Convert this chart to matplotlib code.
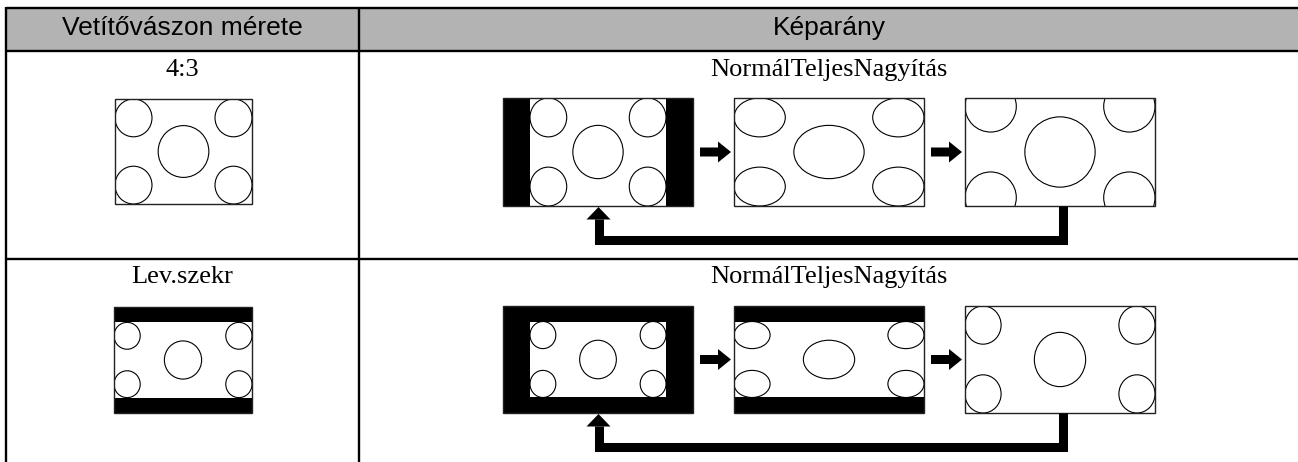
import matplotlib
matplotlib.use("Agg")
import matplotlib.pyplot as plt
from matplotlib.patches import Rectangle, Ellipse

# table text
header_labels = ["Vetítővászon mérete", "Képarány"]
row_labels = ["4:3", "Lev.szekr"]
mode_labels = ["Normál", "Teljes", "Nagyítás"]

# source pictures in a 4x3 frame: content rect (x, y, w, h) and circles (cx, cy, r)
src_content = [(0, 0, 4, 3), (0, 0.435, 4, 2.13)]
src_circles = [
    [(0.54, 0.54, 0.54), (3.46, 0.54, 0.54), (0.54, 2.46, 0.54), (3.46, 2.46, 0.54), (2, 1.5, 0.74)],
    [(0.38, 0.815, 0.38), (3.62, 0.815, 0.38), (0.38, 2.185, 0.38), (3.62, 2.185, 0.38), (2, 1.5, 0.54)],
]

# layout (pixels)
W, H = 1298, 462
row_top = [51, 259]
row_text_y = [70, 277]
left_box = [(115, 99, 137, 105), (114, 307, 138, 106)]
box_x = [503, 734, 965]
box_w = 190
box_y = [98, 306]
box_h = [108, 107]
normal_w = 136

fig = plt.figure(figsize=(W / 100, H / 100), dpi=100)
ax = fig.add_axes([0, 0, 1, 1])
ax.set_xlim(0, W)
ax.set_ylim(H, 0)
ax.axis("off")


def draw_picture(x, y, w, h, sx, sy, ox, oy, src):
    clip = Rectangle((x, y), w, h, transform=ax.transData)
    ax.add_patch(Rectangle((x, y), w, h, facecolor="black", edgecolor="none", zorder=1))
    cx0, cy0, cw, ch = src_content[src]
    p = Rectangle((ox + cx0 * sx, oy + cy0 * sy), cw * sx, ch * sy,
                  facecolor="white", edgecolor="none", zorder=2)
    ax.add_patch(p)
    p.set_clip_path(clip)
    for cx, cy, r in src_circles[src]:
        e = Ellipse((ox + cx * sx, oy + cy * sy), 2 * r * sx, 2 * r * sy,
                    facecolor="none", edgecolor="black", lw=0.8, zorder=3)
        ax.add_patch(e)
        e.set_clip_path(clip)
    ax.add_patch(Rectangle((x, y), w, h, facecolor="none", edgecolor="#222222", lw=1.0, zorder=4))


# header
ax.add_patch(Rectangle((5.5, 8), W, row_top[0] - 8, facecolor="#b3b3b3", edgecolor="none", zorder=0))
ax.text(182, 28, header_labels[0], ha="center", va="center", fontsize=19, family="Liberation Sans")
ax.text(829, 28, header_labels[1], ha="center", va="center", fontsize=19, family="Liberation Sans")

# grid lines
for yy in [8] + row_top:
    ax.plot([5.5, W], [yy, yy], color="black", lw=1.7, solid_capstyle="butt", zorder=5)
for xx in [5.5, 359]:
    ax.plot([xx, xx], [7, H], color="black", lw=1.7, solid_capstyle="butt", zorder=5)

for i in range(2):
    ax.text(182, row_text_y[i], row_labels[i], ha="center", va="center", fontsize=19,
            family="Liberation Serif")
    ax.text(829, row_text_y[i], "".join(mode_labels), ha="center", va="center", fontsize=19,
            family="Liberation Serif")

    # original picture
    x, y, w, h = left_box[i]
    draw_picture(x, y, w, h, w / 4, h / 3, x, y, i)

    # three modes
    bh = box_h[i]
    by = box_y[i]
    # Normal
    sx, sy = normal_w / 4, bh / 3
    draw_picture(box_x[0], by, box_w, bh, sx, sy, box_x[0] + (box_w - normal_w) / 2, by, i)
    # Teljes
    draw_picture(box_x[1], by, box_w, bh, box_w / 4, bh / 3, box_x[1], by, i)
    # Nagyitas
    sx = box_w / 4
    sy = max(sx, bh / src_content[i][3])
    cy = src_content[i][1] + src_content[i][3] / 2
    draw_picture(box_x[2], by, box_w, bh, sx, sy, box_x[2], by + bh / 2 - cy * sy, i)

    # arrows between boxes
    for k in range(2):
        x0 = box_x[k] + box_w + 7
        x1 = box_x[k + 1] - 3
        ax.arrow(x0, by + bh / 2, x1 - x0, 0, width=9, head_width=21, head_length=13,
                 length_includes_head=True, color="black", lw=0, zorder=5)

    # return loop
    bottom = by + bh
    loop_y = bottom + 34
    ax.plot([1062.5, 1062.5, 598.5, 598.5], [bottom, loop_y, loop_y, bottom + 13],
            color="black", lw=6.5, solid_joinstyle="miter", solid_capstyle="butt", zorder=5)
    ax.fill([586.5, 610.5, 598.5], [bottom + 13.5, bottom + 13.5, bottom + 1], color="black",
            lw=0, zorder=5)

fig.savefig("out.png", dpi=100)
